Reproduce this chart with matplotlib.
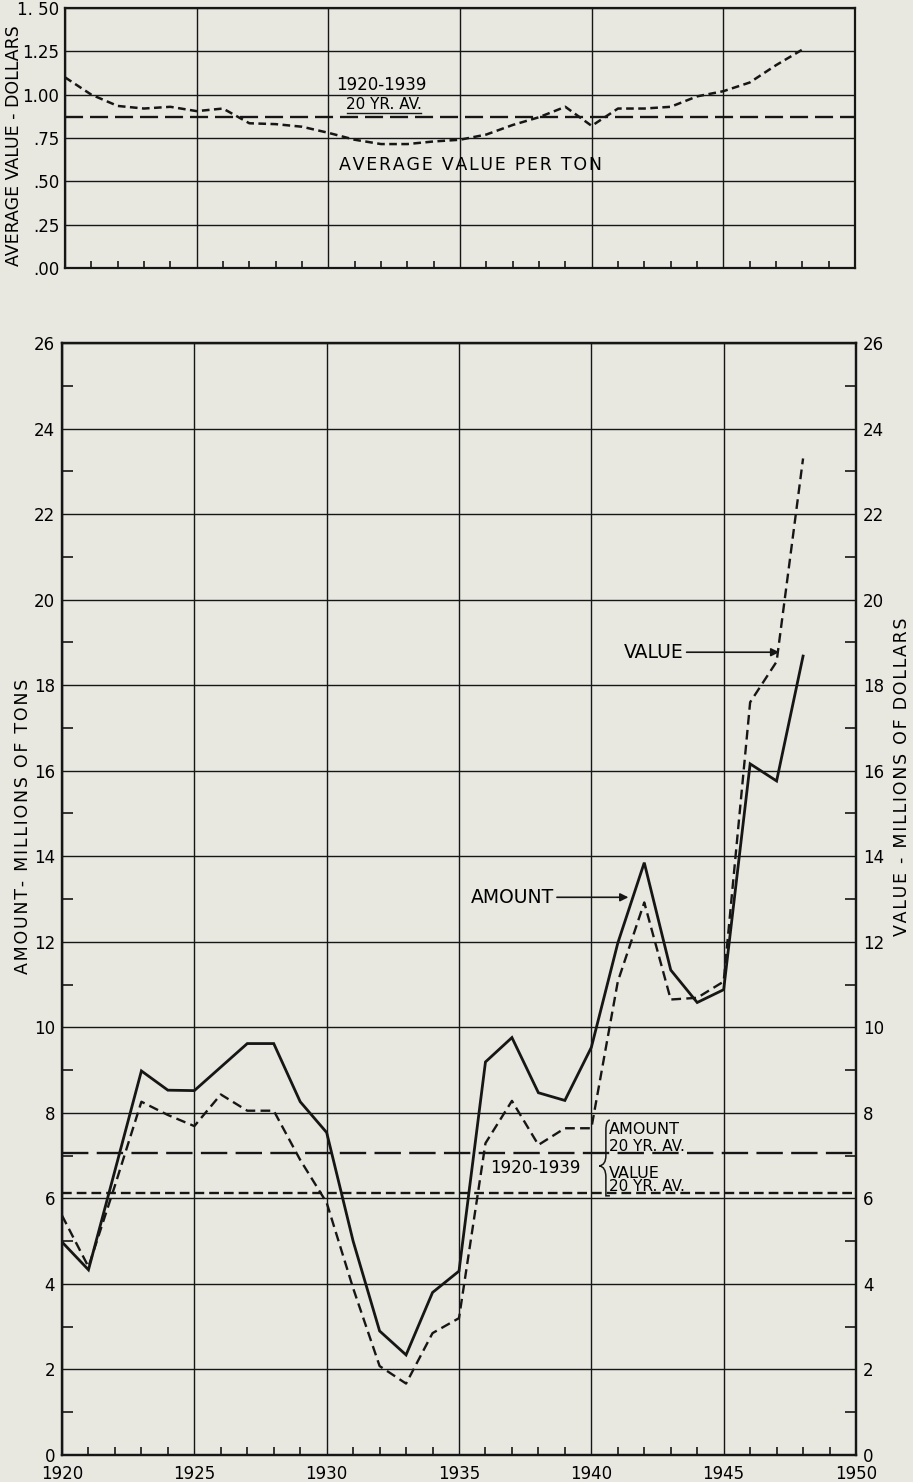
import matplotlib
matplotlib.use("Agg")
import matplotlib.pyplot as plt
from matplotlib.ticker import MultipleLocator, FixedLocator
from matplotlib.path import Path
from matplotlib.patches import PathPatch

plt.rcParams['font.family'] = ['DejaVu Sans']
plt.rcParams['lines.scale_dashes'] = False

# data
years = list(range(1920, 1949))
avg_value_per_ton = [1.10, 1.00, 0.935, 0.92, 0.93, 0.905, 0.92, 0.835, 0.83, 0.815,
                     0.78, 0.74, 0.715, 0.715, 0.73, 0.74, 0.77, 0.825, 0.87, 0.93,
                     0.82, 0.92, 0.92, 0.93, 0.99, 1.02, 1.07, 1.17, 1.26]
amount = [4.98, 4.33, 6.65, 8.98, 8.53, 8.52, 9.07, 9.62, 9.62, 8.26,
          7.54, 5.0, 2.9, 2.34, 3.8, 4.3, 9.19, 9.76, 8.47, 8.29,
          9.53, 11.97, 13.85, 11.34, 10.58, 10.88, 16.16, 15.76, 18.68]
value = [5.6, 4.4, 6.3, 8.26, 7.95, 7.69, 8.43, 8.05, 8.05, 6.9,
         5.9, 3.9, 2.08, 1.67, 2.85, 3.2, 7.29, 8.28, 7.25, 7.64,
         7.64, 11.07, 12.92, 10.65, 10.69, 11.07, 17.6, 18.55, 23.3]

ton_avg = 0.87      # 1920-1939 average value per ton
amount_avg = 7.06   # 1920-1939 amount average
value_avg = 6.13    # 1920-1939 value average

top_ticks = [0, 0.25, 0.5, 0.75, 1.0, 1.25, 1.5]
top_labels = ['.00', '.25', '.50', '.75', '1.00', '1.25', '1. 50']
year_ticks = [1920, 1925, 1930, 1935, 1940, 1945, 1950]

bg = '#e8e8e0'
ink = '#161616'
W, H = 913, 1482


def spaced(s):
    # wide lettering like the original drawing
    return '\u200a'.join(s)


fig = plt.figure(figsize=(W / 100, H / 100), dpi=100, facecolor=bg)

# ---------- top panel: average value per ton ----------
ax1 = fig.add_axes([65 / W, 1 - 268 / H, 790 / W, 260 / H], facecolor=bg)
ax1.set_xlim(1920, 1950)
ax1.set_ylim(0, 1.5)
ax1.xaxis.set_major_locator(FixedLocator(year_ticks))
ax1.xaxis.set_minor_locator(MultipleLocator(1))
ax1.set_yticks(top_ticks)
ax1.set_yticklabels(top_labels, fontsize=12)
ax1.set_xticklabels([])
ax1.grid(True, which='major', color=ink, lw=1.0)
ax1.tick_params(which='major', length=0, pad=4)
ax1.tick_params(axis='x', which='minor', direction='in', length=5, width=1.2, color=ink)
for s in ax1.spines.values():
    s.set_linewidth(1.6)
    s.set_color(ink)

ax1.plot(years, avg_value_per_ton, color=ink, lw=1.8, dashes=(5.5, 3.2))
ax1.axhline(ton_avg, color=ink, lw=1.7, dashes=(13, 5))
ax1.text(1932.0, 1.055, '1920-1939', ha='center', va='center', fontsize=12)
ax1.text(1932.1, 0.945, '20 YR. AV.', ha='center', va='center', fontsize=11)
ax1.plot([1930.7, 1933.5], [0.895, 0.895], color=ink, lw=1.0)
ax1.text(1935.4, 0.595, spaced('AVERAGE VALUE PER TON'), ha='center', va='center',
         fontsize=12.5)
ax1.set_ylabel('AVERAGE VALUE - DOLLARS', fontsize=12.5)
ax1.yaxis.set_label_coords(-0.053, 0.47)

# ---------- bottom panel: amount and value ----------
ax2 = fig.add_axes([62 / W, 1 - 1455 / H, 794 / W, 1112 / H], facecolor=bg)
ax2.set_xlim(1920, 1950)
ax2.set_ylim(0, 26)
ax2.xaxis.set_major_locator(FixedLocator(year_ticks))
ax2.xaxis.set_minor_locator(MultipleLocator(1))
ax2.yaxis.set_major_locator(MultipleLocator(2))
ax2.yaxis.set_minor_locator(MultipleLocator(1))
ax2.grid(True, which='major', color=ink, lw=1.0)
ax2.tick_params(which='major', length=0, labelsize=12, pad=5)
ax2.tick_params(axis='x', which='major', pad=7)
ax2.tick_params(axis='x', which='minor', direction='in', length=6, width=1.2, color=ink)
ax2.tick_params(axis='y', which='minor', direction='in', length=8, width=1.2, color=ink)
for s in ax2.spines.values():
    s.set_linewidth(1.6)
    s.set_color(ink)

ax3 = ax2.twinx()
ax3.set_ylim(0, 26)
ax3.yaxis.set_major_locator(MultipleLocator(2))
ax3.yaxis.set_minor_locator(MultipleLocator(1))
ax3.tick_params(which='major', length=0, labelsize=12, pad=5)
ax3.tick_params(axis='y', which='minor', direction='in', length=8, width=1.2, color=ink)
for s in ax3.spines.values():
    s.set_linewidth(1.6)
    s.set_color(ink)

ax2.plot(years, amount, color=ink, lw=2.0, solid_joinstyle='miter')
ax2.plot(years, value, color=ink, lw=1.7, dashes=(7, 3.8))
ax2.axhline(amount_avg, color=ink, lw=1.7, dashes=(19, 6))
ax2.axhline(value_avg, color=ink, lw=1.7, dashes=(7, 3.6))

ax2.set_ylabel(spaced('AMOUNT- MILLIONS OF TONS'), fontsize=12.5)
ax2.yaxis.set_label_coords(-0.038, 0.565)
ax3.set_ylabel(spaced('VALUE - MILLIONS OF DOLLARS'), fontsize=12.5)
ax3.yaxis.set_label_coords(1.046, 0.61)

# arrows
ax2.annotate('', xy=(1947.1, 18.77), xytext=(1943.6, 18.77),
             arrowprops=dict(arrowstyle='-|>', color=ink, lw=1.2, mutation_scale=12,
                             shrinkA=0, shrinkB=0))
ax2.text(1943.5, 18.77, 'VALUE', ha='right', va='center', fontsize=13.5)
ax2.annotate('', xy=(1941.4, 13.04), xytext=(1938.7, 13.04),
             arrowprops=dict(arrowstyle='-|>', color=ink, lw=1.2, mutation_scale=12,
                             shrinkA=0, shrinkB=0))
ax2.text(1938.6, 13.04, 'AMOUNT', ha='right', va='center', fontsize=13.5)

# bracket legend for the averages
ax2.text(1940.65, 7.6, 'AMOUNT', ha='left', va='center', fontsize=11.5)
ax2.text(1940.65, 7.22, '20 YR. AV.', ha='left', va='center', fontsize=11)
ax2.text(1940.65, 6.58, 'VALUE', ha='left', va='center', fontsize=11.5)
ax2.text(1940.65, 6.28, '20 YR. AV.', ha='left', va='center', fontsize=11)
ax2.text(1937.9, 6.72, '1920-1939', ha='center', va='center', fontsize=12)

bx, tip = 1940.55, 1940.3
brace = Path([(bx + 0.15, 7.83), (bx, 7.83), (bx, 7.6), (bx, 7.0),
              (bx, 6.78), (tip, 6.76), (tip, 6.76), (bx, 6.74), (bx, 6.5),
              (bx, 6.06), (bx, 6.06), (bx + 0.15, 6.06)],
             [Path.MOVETO, Path.CURVE3, Path.CURVE3, Path.LINETO,
              Path.CURVE3, Path.CURVE3, Path.MOVETO, Path.CURVE3, Path.CURVE3,
              Path.LINETO, Path.CURVE3, Path.CURVE3])
ax2.add_patch(PathPatch(brace, fill=False, edgecolor=ink, lw=1.1))

fig.savefig('out.png', dpi=100, facecolor=bg)
